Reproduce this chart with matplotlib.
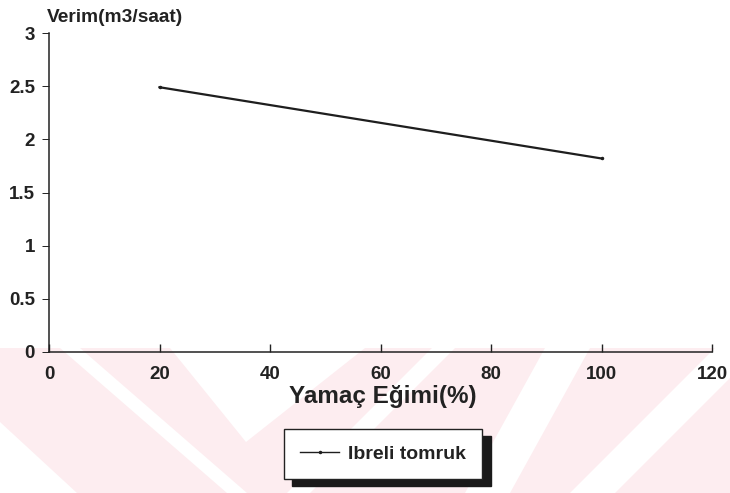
import matplotlib.pyplot as plt
from matplotlib.patches import Polygon

# data
egim = [20, 100]             # Yamac egimi (%)
verim = [2.49, 1.82]         # Verim (m3/saat)
seri_adi = "Ibreli tomruk"

x_ticks = [0, 20, 40, 60, 80, 100, 120]
y_ticks = [0, 0.5, 1, 1.5, 2, 2.5, 3]
y_tick_labels = ["0", "0.5", "1", "1.5", "2", "2.5", "3"]

W, H = 730, 493
plt.rcParams['font.family'] = ['Liberation Sans', 'DejaVu Sans']
plt.rcParams['font.weight'] = 'bold'

fig = plt.figure(figsize=(W / 100, H / 100), dpi=100)
ax = fig.add_axes([49 / W, 1 - 352 / H, (712 - 49) / W, (352 - 33) / H])
ax.patch.set_alpha(0)


def px_poly(pts, color, z):
    # polygon given in image pixels (y down) -> figure fraction
    p = Polygon([(x / W, 1 - y / H) for x, y in pts], closed=True,
                transform=fig.transFigure, facecolor=color,
                edgecolor='none', zorder=z)
    fig.patches.append(p)


# faint watermark at the bottom of the scan
pink = '#fdedf0'
px_poly([(0, 348), (W, 348), (W, H), (0, H)], pink, -3)
for shape in [
    [(0, 422), (0, H), (77, H)],
    [(60, 348), (80, 348), (247, H), (227, H)],
    [(170, 348), (365, 348), (246, 442)],
    [(432, 348), (455, 348), (310, H), (287, H)],
    [(545, 348), (590, 348), (510, H), (465, H)],
    [(715, 348), (760, 348), (615, H), (570, H)],
]:
    px_poly(shape, 'white', -2)

ax.plot(egim, verim, color='#1e1e1e', linewidth=1.6, marker='.',
        markersize=3, label=seri_adi)

ax.set_xlim(0, 120)
ax.set_ylim(0, 3)
ax.set_xticks(x_ticks)
ax.set_yticks(y_ticks)
ax.set_yticklabels(y_tick_labels)

for side in ['top', 'right']:
    ax.spines[side].set_visible(False)
for side in ['left', 'bottom']:
    ax.spines[side].set_color('#222222')
    ax.spines[side].set_linewidth(1.1)

ax.tick_params(axis='x', direction='in', length=6, width=1, pad=10,
               labelsize=13.5, colors='#222222')
ax.tick_params(axis='y', direction='out', length=5, width=0.7, pad=5,
               labelsize=13.5, colors='#222222')
for lab in ax.get_xticklabels() + ax.get_yticklabels():
    lab.set_fontweight('bold')

fig.text(47 / W, 1 - 17 / H, "Verim(m3/saat)", ha='left', va='center',
         fontsize=13.8, fontweight='bold', color='#222222')
fig.text(383 / W, 1 - 396 / H, "Yamaç Eğimi(%)", ha='center', va='center',
         fontsize=17.5, fontweight='bold', color='#222222')

leg = ax.legend(loc='center', bbox_to_anchor=(383 / W, 1 - 454 / H),
                bbox_transform=fig.transFigure, fancybox=False,
                shadow={'ox': 6, 'oy': -5, 'color': '#1a1a1a', 'alpha': 1},
                frameon=True, borderpad=0.85, handlelength=2.0,
                handletextpad=0.45, borderaxespad=0,
                prop={'size': 14, 'weight': 'bold'})
leg.get_frame().set_edgecolor('#222222')
leg.get_frame().set_linewidth(1.0)
leg.get_frame().set_alpha(1)
for t in leg.get_texts():
    t.set_color('#222222')
for h in leg.legend_handles:
    h.set_linewidth(1.0)

fig.savefig('out.png', dpi=100)
